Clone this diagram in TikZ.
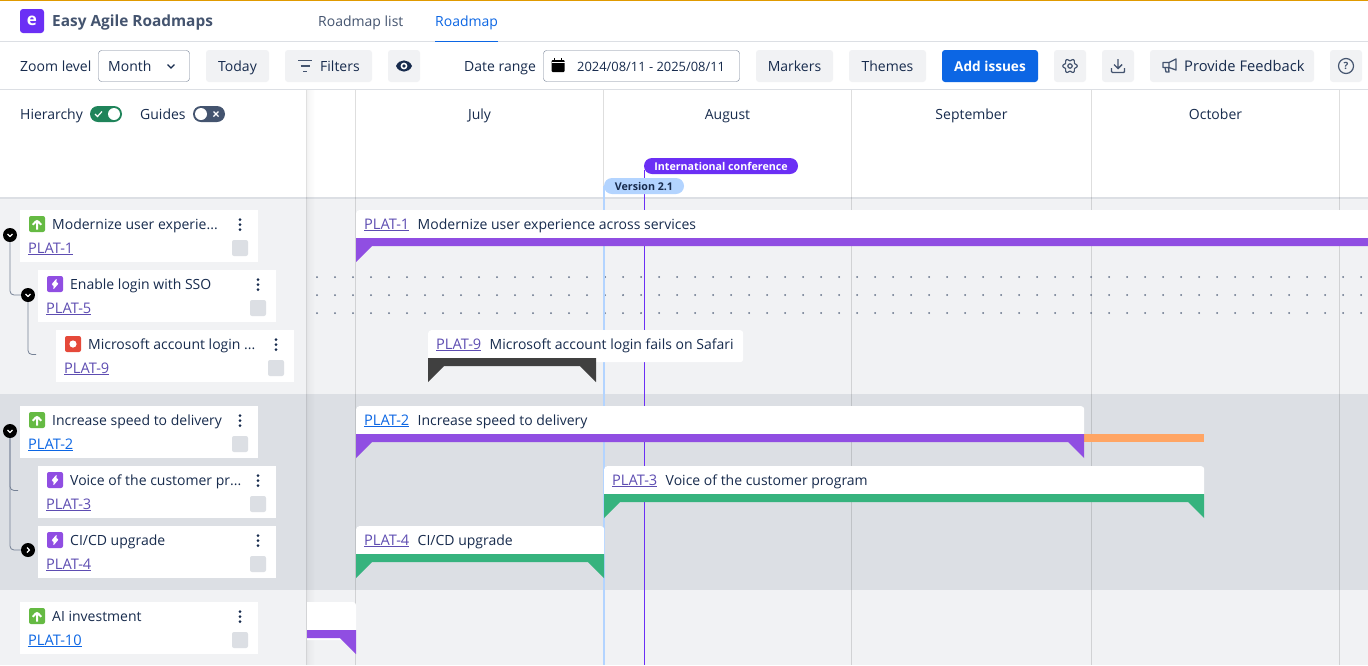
\documentclass[tikz,border=0pt]{standalone}
\usepackage{fontspec}
\setmainfont{Open Sans}
\usepackage{xcolor}
\usetikzlibrary{positioning}
\definecolor{inkblue}{RGB}{23,43,77}
\definecolor{headgray}{RGB}{68,84,111}
\definecolor{linegray}{RGB}{220,223,228}
\definecolor{panelgray}{RGB}{241,242,244}
\definecolor{linkblue}{RGB}{12,102,228}
\definecolor{linkpurple}{RGB}{94,77,178}
\definecolor{brandpurple}{RGB}{107,47,245}
\definecolor{epicgreen}{RGB}{101,186,67}
\definecolor{taskpurple}{RGB}{144,78,226}
\definecolor{bugred}{RGB}{229,73,58}
\definecolor{bargreen}{RGB}{54,179,126}
\definecolor{togglegreen}{RGB}{31,132,90}
\definecolor{bardark}{RGB}{64,64,64}
\definecolor{barorange}{RGB}{255,165,100}
\definecolor{versionblue}{RGB}{179,212,255}
\definecolor{fieldgray}{RGB}{117,129,149}
\definecolor{topamber}{RGB}{224,154,0}

\begin{document}
\begin{tikzpicture}[x=1pt, y=-1pt]
    \tikzstyle{txt} = [inner sep=0, text height=10, text depth=0, text=inkblue, font=\fontsize{14}{16}\selectfont]
    \tikzstyle{keytxt} = [txt, font=\fontsize{14.6}{16}\selectfont]
    \tikzstyle{tool} = [rectangle, rounded corners=3, minimum height=32, inner sep=0, text height=10, text depth=0, fill=panelgray, text=inkblue, font=\fontsize{14}{16}\selectfont]
    \tikzstyle{field} = [rectangle, rounded corners=3, minimum height=31, inner sep=0, draw=fieldgray, fill=white]
    \tikzstyle{card} = [rectangle, minimum width=238, minimum height=52, inner sep=0, fill=white]
    \tikzstyle{barbox} = [rectangle, rounded corners=3, minimum height=32, inner sep=0, fill=white]
    \tikzstyle{check} = [rectangle, rounded corners=2, minimum width=16, minimum height=16, inner sep=0, fill=linegray]
    \tikzstyle{iconbase} = [rectangle, rounded corners=2, minimum width=16, minimum height=16, inner sep=0]
    \tikzstyle{epicicon} = [iconbase, fill=epicgreen, path picture={\draw[white, line width=2, shift={(path picture bounding box.center)}] (0,5.5) -- (0,-3.5) (-4.2,0.8) -- (0,-3.8) -- (4.2,0.8);}]
    \tikzstyle{taskicon} = [iconbase, fill=taskpurple, path picture={\fill[white, shift={(path picture bounding box.center)}] (2,-6) -- (-4,1) -- (-1,1) -- (-2,6) -- (4,-1) -- (1,-1) -- cycle;}]
    \tikzstyle{bugicon} = [iconbase, fill=bugred, path picture={\fill[white] (path picture bounding box.center) circle (3.6);}]
    \tikzstyle{folddown} = [circle, minimum size=14, inner sep=0, fill=black, path picture={\draw[white, line width=1.2, shift={(path picture bounding box.center)}] (-2.5,-1) -- (0,1.4) -- (2.5,-1);}]
    \tikzstyle{foldright} = [circle, minimum size=14, inner sep=0, fill=black, path picture={\draw[white, line width=1.2, shift={(path picture bounding box.center)}] (-1,-2.5) -- (1.4,0) -- (-1,2.5);}]
    \tikzstyle{treeline} = [draw=fieldgray, line width=0.8, rounded corners=4]
    \tikzstyle{gridline} = [black, opacity=0.13, line width=1]
    \tikzstyle{pill} = [rectangle, rounded corners=8, minimum height=16, inner sep=0, text height=8, text depth=0, font=\fontsize{10.7}{12}\selectfont\bfseries]

    % Page and rows
    \useasboundingbox (0,0) rectangle (1368,665);
    \fill[white] (0,0) rectangle (1368,665);
    \fill[panelgray] (0,198) rectangle (1368,394);
    \fill[linegray] (0,394) rectangle (1368,590);
    \fill[panelgray] (0,590) rectangle (1368,665);
    \fill[topamber] (0,0) rectangle (1368,1.2);
    \draw[linegray, line width=1] (0,41.5) -- (1368,41.5);
    \draw[linegray, line width=1] (0,89.5) -- (1368,89.5);
    \draw[linegray, line width=1.2] (0,198) -- (1368,198);

    % Title bar
    \node [rectangle, rounded corners=3, minimum width=24, minimum height=24, inner sep=0, fill=brandpurple, text=white, font=\fontsize{17}{17}\selectfont\bfseries] (logo) at (32,21) {e};
    \node [txt, anchor=west, text=headgray, font=\fontsize{15.4}{18}\selectfont\bfseries] (brand) at (52,21) {Easy Agile Roadmaps};
    \node [txt, anchor=west, text=headgray] (listtab) at (318,21) {Roadmap list};
    \node [txt, anchor=west, text=linkblue] (roadtab) at (435,21) {Roadmap};
    \draw[linkblue, line width=1.5] (roadtab.west |- 0,41.5) -- (roadtab.east |- 0,41.5);

    % Toolbar
    \node [txt, anchor=west] (zoomlabel) at (20,66) {Zoom level};
    \node [field, minimum width=91] (zoombox) at (144,66) {};
    \node [txt, anchor=west] (zoomtext) at (108,66) {Month};
    \draw[inkblue, line width=1.1] (167.5,64.5) -- (171,68) -- (174.5,64.5);
    \node [tool, minimum width=63] (today) at (237.5,66) {Today};
    \node [tool, minimum width=87] (filters) at (328.5,66) {};
    \node [txt, anchor=west] (filtertext) at (320,66) {Filters};
    \draw[headgray, line width=1.4] (298,60.5) -- (312,60.5) (300.5,66) -- (309.5,66) (303,71.5) -- (307,71.5);
    \node [tool, minimum width=32] (eye) at (404,66) {};
    \fill[inkblue] (396,66) .. controls (399,58.5) and (409,58.5) .. (412,66) .. controls (409,73.5) and (399,73.5) .. (396,66) -- cycle;
    \fill[white] (404,66) circle (3.4);
    \fill[inkblue] (404,66) circle (1.8);
    \node [txt, anchor=west] (datelabel) at (464,66) {Date range};
    \node [field, minimum width=196] (datebox) at (641.5,66) {};
    \node [txt, anchor=west, font=\fontsize{12.9}{16}\selectfont] (datetext) at (577,66) {2024/08/11 - 2025/08/11};
    \fill[black, rounded corners=1] (551.5,60) rectangle (564.5,72);
    \draw[black, line width=1.3] (554.5,58) -- (554.5,61) (561.5,58) -- (561.5,61);
    \draw[white, line width=0.7] (551.5,62.5) -- (564.5,62.5);
    \node [tool, minimum width=77] (markers) at (794.5,66) {Markers};
    \node [tool, minimum width=77] (themes) at (887.5,66) {Themes};
    \node [tool, minimum width=96, fill=linkblue, text=white, font=\fontsize{13.6}{16}\selectfont\bfseries] (addissues) at (990,66) {Add issues};
    \node [tool, minimum width=32] (gear) at (1070,66) {};
    \draw[headgray, line width=1.2, shift={(1070,66)}] plot[domain=0:360, samples=73, smooth] ({(6.2+1*cos(6*\x))*cos(\x)}, {(6.2+1*cos(6*\x))*sin(\x)});
    \draw[headgray, line width=1.2] (1070,66) circle (2.2);
    \node [tool, minimum width=32] (download) at (1118,66) {};
    \draw[headgray, line width=1.4] (1118,59) -- (1118,68) (1114,64.5) -- (1118,68.5) -- (1122,64.5);
    \draw[headgray, line width=1.4, rounded corners=1] (1111.5,68) -- (1111.5,72.5) -- (1124.5,72.5) -- (1124.5,68);
    \node [tool, minimum width=164] (feedback) at (1232,66) {};
    \node [txt, anchor=west, font=\fontsize{14.7}{16}\selectfont] (feedbacktext) at (1184,66) {Provide Feedback};
    \draw[headgray, line width=1.3, line join=round] (1163,62.5) -- (1169,62.5) -- (1176,59) -- (1176,70) -- (1169,67.5) -- (1163,67.5) -- cycle (1169,62.5) -- (1169,67.5) (1165,67.5) -- (1166,72) -- (1169,72) -- (1168.5,67.5);
    \node [tool, minimum width=32] (helpbtn) at (1346,66) {};
    \node [circle, draw=headgray, line width=1.2, minimum size=15, inner sep=0, text=headgray, font=\fontsize{10}{10}\selectfont\bfseries] (helpmark) at (1346,66) {?};

    % Month grid
    \foreach \gx in {355.5,603.5,851.5,1091.5,1339.5} {
        \draw[gridline] (\gx,90) -- (\gx,665);
    }
    \node [txt] (july) at (479.5,114) {July};
    \node [txt] (august) at (727.5,114) {August};
    \node [txt] (september) at (971.5,114) {September};
    \node [txt] (october) at (1215.5,114) {October};

    % Dotted row
    \foreach \dy in {277,295,313} {
        \foreach \dx in {317,335,...,1361} {
            \fill[headgray!85] (\dx,\dy) circle (1);
        }
    }

    % Marker lines
    \draw[versionblue, line width=1.6] (604.2,186) -- (604.2,665);
    \draw[brandpurple, line width=1] (644.4,170) -- (644.4,665);

    % Left panel edge
    \foreach \sx/\so in {307/0.05,308/0.04,309/0.03,310/0.025,311/0.02,312/0.015,313/0.01,314/0.005} {
        \fill[black, opacity=\so] (\sx,90) rectangle (\sx+1,665);
    }
    \draw[black, opacity=0.12, line width=1] (306.5,90) -- (306.5,665);

    % Toggles
    \node [txt, anchor=west] (hierarchy) at (20,114) {Hierarchy};
    \node [rectangle, rounded corners=8, minimum width=32, minimum height=16, inner sep=0, fill=togglegreen] (hiertoggle) at (106,114) {};
    \fill[white] (114,114) circle (6);
    \draw[white, line width=1.2] (95,114) -- (97.5,116.5) -- (102,111.5);
    \node [txt, anchor=west] (guides) at (140,114) {Guides};
    \node [rectangle, rounded corners=8, minimum width=32, minimum height=16, inner sep=0, fill=headgray] (guidetoggle) at (209,114) {};
    \fill[white] (201,114) circle (6);
    \draw[white, line width=1.2] (213.5,111.5) -- (218.5,116.5) (218.5,111.5) -- (213.5,116.5);

    % Issue cards
    \foreach \card/\cx/\cy/\kind/\title/\key/\keycol in {
        plat1/20/210/epicicon/{Modernize user experie...}/PLAT-1/linkpurple,
        plat5/38/270/taskicon/{Enable login with SSO}/PLAT-5/linkpurple,
        plat9/56/330/bugicon/{Microsoft account login ...}/PLAT-9/linkpurple,
        plat2/20/406/epicicon/{Increase speed to delivery}/PLAT-2/linkblue,
        plat3/38/466/taskicon/{Voice of the customer pr...}/PLAT-3/linkpurple,
        plat4/38/526/taskicon/{CI/CD upgrade}/PLAT-4/linkpurple,
        plat10/20/602/epicicon/{AI investment}/PLAT-10/linkblue} {
        \node [card] (\card) at (\cx+119,\cy+26) {};
        \node [\kind] (\card icon) at (\cx+17,\cy+14) {};
        \node [txt, anchor=west] (\card title) at (\cx+32,\cy+14) {\title};
        \node [keytxt, anchor=west, text=\keycol] (\card key) at (\cx+8,\cy+38) {\underline{\key}};
        \node [check] (\card check) at (\cx+220,\cy+38) {};
        \fill[inkblue] (\cx+220,\cy+9.5) circle (1.5) (\cx+220,\cy+14.5) circle (1.5) (\cx+220,\cy+19.5) circle (1.5);
    }

    % Tree
    \node [folddown] (fold1) at (10,235) {};
    \node [folddown] (fold5) at (28,295) {};
    \node [folddown] (fold2) at (10,431) {};
    \node [foldright] (fold4) at (28,550) {};
    \coordinate (end9) at (36,354.5);
    \coordinate (end3) at (18,490.5);
    \draw[treeline] (fold1) |- (fold5);
    \draw[treeline] (fold5) |- (end9);
    \draw[treeline] (fold2) |- (end3);
    \draw[treeline] (fold2) |- (fold4);

    % Bars
    \node [barbox, anchor=north west, minimum width=1020] (bar1) at (356,210) {};
    \node [barbox, anchor=north west, minimum width=315] (bar9) at (428,330) {};
    \node [barbox, anchor=north west, minimum width=728] (bar2) at (356,406) {};
    \node [barbox, anchor=north west, minimum width=600] (bar3) at (604,466) {};
    \node [barbox, anchor=north west, minimum width=248] (bar4) at (356,526) {};
    \fill[white] (307,602) [rounded corners=3] -- (356,602) [sharp corners] -- (356,640) -- (307,640) -- cycle;
    \fill[taskpurple] (356,238) -- (1368,238) -- (1368,246) -- (372,246) -- (356,262) -- cycle;
    \fill[bardark] (428,358) -- (596,358) -- (596,382) -- (580,366) -- (444,366) -- (428,382) -- cycle;
    \fill[barorange] (1084,434) rectangle (1204,442);
    \fill[taskpurple] (356,434) -- (1084,434) -- (1084,458) -- (1068,442) -- (372,442) -- (356,458) -- cycle;
    \fill[bargreen] (604,494) -- (1204,494) -- (1204,518) -- (1188,502) -- (620,502) -- (604,518) -- cycle;
    \fill[bargreen] (356,554) -- (604,554) -- (604,578) -- (588,562) -- (372,562) -- (356,578) -- cycle;
    \fill[taskpurple] (307,630) -- (356,630) -- (356,654) -- (340,638) -- (307,638) -- cycle;

    % Bar labels
    \node [keytxt, anchor=west, text=linkpurple] (key1) at (364,224) {\underline{PLAT-1}};
    \node [txt, right=8pt of key1] (title1) {Modernize user experience across services};
    \node [keytxt, anchor=west, text=linkpurple] (key9) at (436,344) {\underline{PLAT-9}};
    \node [txt, right=8pt of key9] (title9) {Microsoft account login fails on Safari};
    \node [keytxt, anchor=west, text=linkblue] (key2) at (364,420) {\underline{PLAT-2}};
    \node [txt, right=8pt of key2] (title2) {Increase speed to delivery};
    \node [keytxt, anchor=west, text=linkpurple] (key3) at (612,480) {\underline{PLAT-3}};
    \node [txt, right=8pt of key3] (title3) {Voice of the customer program};
    \node [keytxt, anchor=west, text=linkpurple] (key4) at (364,540) {\underline{PLAT-4}};
    \node [txt, right=8pt of key4] (title4) {CI/CD upgrade};

    % Marker flags
    \node [pill, minimum width=154, fill=brandpurple, text=white] (conference) at (721,166) {International conference};
    \node [pill, minimum width=80, fill=versionblue, text=inkblue] (version) at (644,186) {Version 2.1};
\end{tikzpicture}
\end{document}
